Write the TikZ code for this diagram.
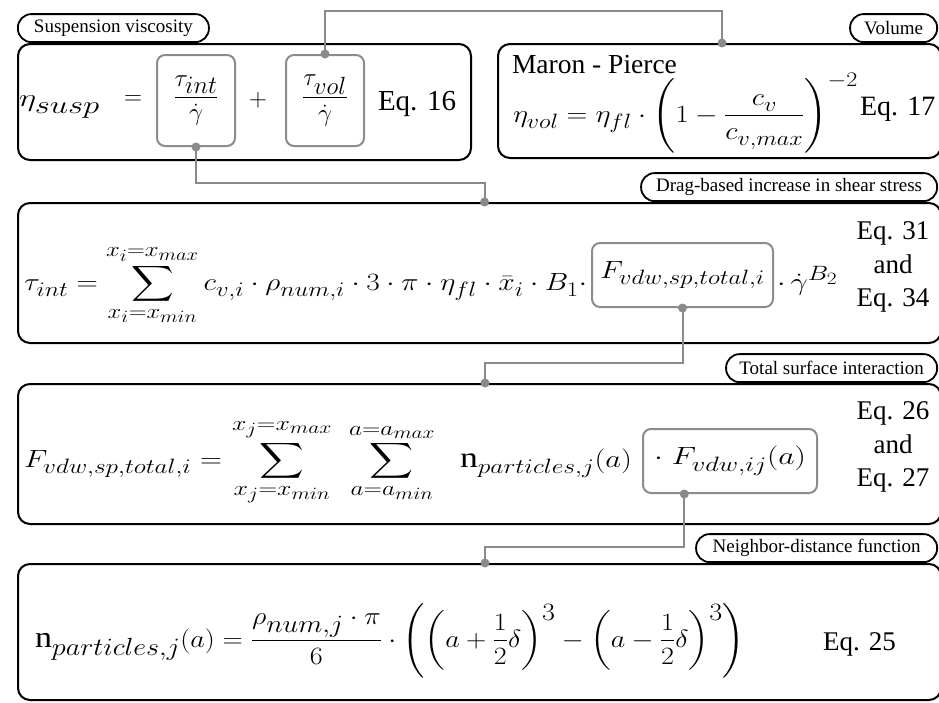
\documentclass[tikz,border=0pt]{standalone}
\usepackage{fontspec}
\usepackage{amsmath}
\usepackage{graphicx}
\setmainfont{Liberation Serif}
\usetikzlibrary{calc}
\renewcommand\defaultscriptratio{.78}
\renewcommand\defaultscriptscriptratio{.6}
\everymath{\fontdimen16\textfont2=.24em\fontdimen17\textfont2=.24em}
\definecolor{conngray}{HTML}{8A8A8A}
\definecolor{boxgray}{HTML}{8C8C8C}
\newsavebox\fitbox
\newcommand\fitx[2]{\sbox\fitbox{#2}\scalebox{\fpeval{(#1)/(\the\wd\fitbox)}}[1]{\usebox\fitbox}}
\newcommand\nn{\textnormal{n}}
\tikzset{
  bigbox/.style={draw=black, line width=2pt, rounded corners=12pt, inner sep=0pt, anchor=north west},
  pill/.style={draw=black, line width=1.8pt, rounded corners=13.5pt, inner sep=0pt, minimum height=28pt, anchor=south east, font=\fontsize{19}{22}\selectfont},
  innerbox/.style={draw=boxgray, line width=2pt, rounded corners=8pt, inner sep=0pt},
  txt/.style={inner sep=0pt, outer sep=0pt},
  conn/.style={draw=conngray, line width=2pt},
  cdot/.style={fill=conngray},
}
\newcommand\mA{\fontsize{32}{38}\selectfont}
\newcommand\mB{\fontsize{28}{34}\selectfont}
\newcommand\mC{\fontsize{28}{33}\selectfont}
\newcommand\mD{\fontsize{29}{34}\selectfont}
\newcommand\mE{\fontsize{30}{36}\selectfont}
\newcommand\eqs{\fontsize{27}{33.5}\selectfont}
\begin{document}
\begin{tikzpicture}[x=1pt,y=-1pt]
\useasboundingbox (0,0) rectangle (939,702);
\clip (0,0) rectangle (939,702);
% outer boxes
\node[bigbox, minimum width=453pt, minimum height=116pt] (b1) at (17,43) {};
\node[bigbox, minimum width=443pt, minimum height=114pt] (bv) at (497,43) {};
\node[bigbox, minimum width=923pt, minimum height=140pt] (b2) at (17,202) {};
\node[bigbox, minimum width=923pt, minimum height=140pt] (b3) at (17,383) {};
\node[bigbox, minimum width=923pt, minimum height=136pt] (b4) at (17,563) {};
% labels
\node[pill, minimum width=191pt, anchor=south west] (l1) at (17,43) {Suspension viscosity};
\node[pill, minimum width=87pt] (lv) at (938,43) {Volume};
\node[pill, minimum width=296pt] (l2) at (938,202) {Drag-based increase in shear stress};
\node[pill, minimum width=211pt] (l3) at (938,383) {Total surface interaction};
\node[pill, minimum width=241pt] (l4) at (938,563) {Neighbor-distance function};
% box 1
\node[txt, anchor=base west, font=\mA] (etasusp) at (19,106) {\fitx{81pt}{$\eta_{susp}$}};
\node[txt, font=\mA] (eqsign) at (133,100) {$=$};
\node[innerbox, minimum width=78pt, minimum height=91pt, font=\mA] (tauint) at (196,100.5) {$\dfrac{\tau_{int}}{\dot\gamma}$};
\node[txt, font=\mA] (plus) at (258,100) {$+$};
\node[innerbox, minimum width=78pt, minimum height=91pt, font=\mA] (tauvol) at (325,100.5) {$\dfrac{\tau_{vol}}{\dot\gamma}$};
\node[txt, anchor=base west, font=\fontsize{29}{34}\selectfont] (eq16) at (378,110) {Eq. 16};
% volume box
\node[txt, anchor=base west, font=\fontsize{27.5}{32}\selectfont] (maron) at (512,73) {Maron - Pierce};
\node[txt, anchor=base west, font=\mB] (etavol) at (513,122) {\fitx{345pt}{$\eta_{vol}=\eta_{fl}\cdot\left(1-\dfrac{c_v}{c_{v,max}}\right)^{-2}$}};
\node[txt, anchor=base west, font=\fontsize{28}{32}\selectfont] (eq17) at (860,115) {Eq. 17};
% box 2
\node[txt, anchor=base west, font=\mC] (tauinteq) at (24,290) {\fitx{563pt}{$\tau_{int}=\displaystyle\sum_{x_i=x_{min}}^{x_i=x_{max}} c_{v,i}\cdot\rho_{num,i}\cdot3\cdot\pi\cdot\eta_{fl}\cdot\bar{x}_i\cdot B_1\cdot$}};
\node[innerbox, minimum width=181pt, minimum height=64pt, font=\mC] (fsp) at (682.5,275) {\fitx{165pt}{$F_{vdw,sp,total,i}$}};
\node[txt, anchor=base west, font=\mC] (gam) at (777,290) {\fitx{61pt}{$\cdot\,\dot\gamma^{B_2}$}};
\node[txt, align=center, font=\eqs] (eq3134) at (893,267) {Eq. 31\\and\\Eq. 34};
% box 3
\node[txt, anchor=base west, font=\mD] (fspl) at (24,467) {\fitx{198pt}{$F_{vdw,sp,total,i}=$}};
\node[txt, anchor=base, font=\mD] (sum1) at (282,467) {\fitx{100pt}{$\displaystyle\sum_{x_j=x_{min}}^{x_j=x_{max}}$}};
\node[txt, anchor=base, font=\mD] (sum2) at (392,467) {\fitx{86pt}{$\displaystyle\sum_{a=a_{min}}^{a=a_{max}}$}};
\node[txt, anchor=base west, font=\mD] (npl) at (460,467) {\fitx{172pt}{$\nn_{particles,j}(a)$}};
\node[innerbox, minimum width=174pt, minimum height=64pt, font=\mD] (fij) at (730,461) {\fitx{152pt}{$\cdot\;F_{vdw,ij}(a)$}};
\node[txt, align=center, font=\eqs] (eq2627) at (893,447) {Eq. 26\\and\\Eq. 27};
% box 4
\node[txt, anchor=base west, font=\mE] (npart) at (35,647) {\fitx{710pt}{$\nn_{particles,j}(a)=\dfrac{\rho_{num,j}\cdot\pi}{6}\cdot\left(\left(a+\dfrac{1}{2}\delta\right)^{3}-\left(a-\dfrac{1}{2}\delta\right)^{3}\right)$}};
\node[txt, anchor=base west, font=\fontsize{27}{32}\selectfont] (eq25) at (823,650) {Eq. 25};
% connectors
\coordinate (c1e) at ([xshift=2.5pt]bv.north);
\coordinate (c2e) at ([xshift=5pt]b2.north);
\coordinate (c3e) at ([xshift=5.5pt]b3.north);
\coordinate (c4e) at ([xshift=5.5pt]b4.north);
\coordinate (c4s) at ($(fij.south west)!0.24!(fij.south east)$);
\draw[conn] (tauvol.north) -- ++(0,-43) -| (c1e);
\draw[conn] (tauint.south) -- ++(0,36) -| (c2e);
\draw[conn] (fsp.south) -- ++(0,55) -| (c3e);
\draw[conn] (c4s) -- ++(0,53) -| (c4e);
\foreach \p in {tauvol.north, c1e, tauint.south, c2e, fsp.south, c3e, c4s, c4e}
  \fill[cdot] (\p) circle (4.5pt);
\end{tikzpicture}
\end{document}
